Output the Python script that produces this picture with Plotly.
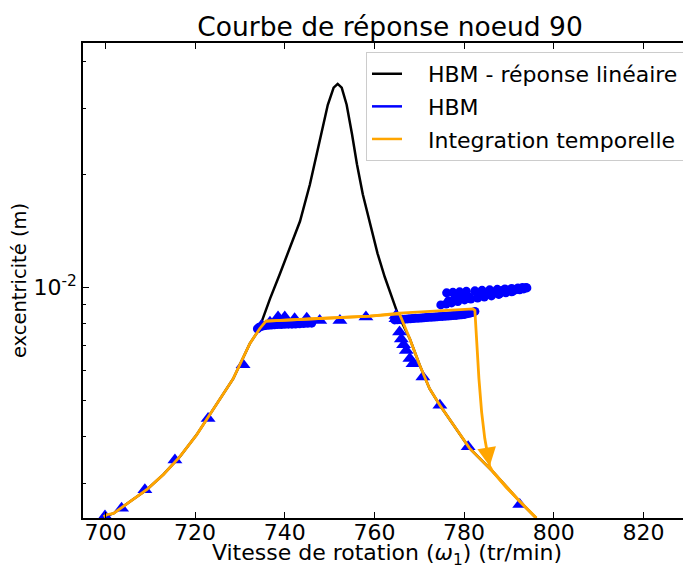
import math
import plotly.graph_objects as go

# ---------------- data (excentricité in units of 1e-3 m) ----------------
# HBM - réponse linéaire (black)
lin_x = [699.5, 701.8, 705.5, 709.2, 712.9, 716.6, 720.3, 724.0, 728.5, 732.2, 734.4,
         734.9, 736.7, 738.9, 741.1, 743.4, 745.6, 747.8, 749.6, 750.9, 751.8, 752.7,
         753.8, 755.0, 756.1, 757.4, 759.0, 760.7, 762.3, 763.9, 765.2, 767.9, 770.1,
         772.3, 774.6, 781.2, 786.4, 792.4, 796.1]
lin_y = [2.44, 2.49, 2.68, 2.88, 3.16, 3.53, 4.03, 4.70, 5.70, 7.07, 7.75,
         8.12, 9.31, 10.85, 12.64, 15.0, 18.8, 24.8, 30.7, 34.1, 34.9, 34.1,
         30.7, 25.6, 21.3, 17.7, 14.74, 12.3, 10.65, 9.42, 8.49, 7.28, 6.19,
         5.36, 4.84, 3.72, 3.22, 2.68, 2.42]

# Integration temporelle (orange) - sweep up
up_x = [699.6, 700.3, 701.8, 705.5, 709.2, 712.9, 716.6, 720.3, 724.0, 728.5, 732.2,
        734.4, 735.8, 741.9, 746.3, 759.0, 765.6, 781.2, 782.0, 782.4, 782.8, 783.3,
        783.9, 784.6, 785.7, 786.4, 789.4, 792.4, 796.1]
up_y = [2.44, 2.47, 2.49, 2.68, 2.88, 3.16, 3.53, 4.03, 4.70, 5.70, 7.07,
        7.75, 8.12, 8.18, 8.24, 8.37, 8.53, 8.76, 8.75, 8.67, 7.07, 5.70,
        4.65, 3.95, 3.33, 3.22, 2.92, 2.68, 2.42]
# Integration temporelle (orange) - sweep down
down_x = [796.1, 792.4, 786.4, 781.2, 774.6, 772.3, 770.1, 767.9, 765.6, 759.0, 746.3,
          741.9, 735.8]
down_y = [2.42, 2.68, 3.22, 3.72, 4.84, 5.36, 6.19, 7.28, 8.49, 8.37, 8.24,
          8.18, 8.12]
# arrow on the jump (tip and tail)
arrow_tip = (785.7, 3.33)
arrow_tail = (785.0, 3.75)

# HBM (blue) - triangles
tri_x = [699.9, 703.6, 708.8, 715.5, 722.9, 730.7, 734.8, 736.7, 738.5, 740.0, 742.2,
         744.9, 747.8, 752.3, 758.1, 764.8, 764.8, 765.6, 766.0, 766.5, 767.1, 767.9,
         768.6, 770.8, 774.6, 780.9, 792.4]
tri_y = [2.45, 2.57, 2.88, 3.46, 4.46, 6.21, 7.90, 8.07, 8.33, 8.33, 8.24,
         8.27, 8.15, 8.15, 8.33, 8.40, 8.24, 7.59, 7.28, 7.02, 6.78, 6.45,
         6.25, 5.76, 4.84, 3.75, 2.63]

# HBM (blue) - circles
circ_x = [733.9, 734.3, 734.8, 735.3, 735.8, 736.4, 737.0, 737.7, 738.4, 739.2, 740.0,
          740.8, 741.6, 742.4, 743.3, 744.2, 745.1, 746.0,
          764.5, 765.1, 765.6, 766.2, 766.8, 767.4, 768.0, 768.6, 769.2, 769.8, 770.4,
          771.0, 771.6, 772.2, 772.8, 773.4, 774.0, 774.6, 775.2, 775.8, 776.4, 777.0,
          777.6, 778.2, 778.8, 779.4, 780.0, 780.6, 781.2, 781.8, 782.4,
          774.8, 776.0, 777.2, 778.6, 780.1, 781.5, 783.0, 784.5, 786.1, 787.7, 789.3,
          790.8, 792.4, 793.3, 794.0,
          793.8, 793.0, 792.0, 790.6, 789.1, 787.4, 785.7, 784.0, 782.4, 780.5, 779.0,
          777.5, 776.1,
          776.5, 778.0, 779.0, 780.0, 781.2, 783.0, 784.6, 786.8, 787.9, 788.5, 790.6,
          791.5]
circ_y = [7.75, 7.82, 7.86, 7.89, 7.91, 7.92, 7.93, 7.94, 7.95, 7.95, 7.96,
          7.97, 7.97, 7.98, 7.99, 8.00, 8.01, 8.02,
          8.18, 8.19, 8.20, 8.21, 8.22, 8.23, 8.24, 8.25, 8.26, 8.27, 8.28,
          8.29, 8.30, 8.31, 8.32, 8.33, 8.34, 8.35, 8.36, 8.37, 8.38, 8.39,
          8.40, 8.41, 8.43, 8.44, 8.46, 8.49, 8.52, 8.56, 8.62,
          8.97, 9.02, 9.08, 9.16, 9.25, 9.30, 9.36, 9.42, 9.48, 9.57, 9.66,
          9.75, 9.84, 9.90, 9.96,
          9.99, 9.98, 9.96, 9.93, 9.90, 9.87, 9.84, 9.81, 9.78, 9.75, 9.72,
          9.69, 9.66,
          9.20, 9.45, 9.31, 9.60, 9.42, 9.65, 9.54, 9.72, 9.60, 9.80, 9.72,
          9.85]

x_ticks = [700, 720, 740, 760, 780, 800, 820]
y_major = [1e-2]
y_minor = [3e-3, 4e-3, 5e-3, 6e-3, 7e-3, 8e-3, 9e-3, 2e-2, 3e-2, 4e-2]

scale = 1e-3
FONT = "DejaVu Sans"
BLUE = "#0000ff"
ORANGE = "#ffa500"
NB = "\u00a0"

# the page adds an 8 px body margin: the figure is sized/placed to compensate
W, H = 683, 561
L, T, B = 75, 35, 49

fig = go.Figure()

fig.add_trace(go.Scatter(x=lin_x, y=[v * scale for v in lin_y], mode="lines",
                         line=dict(color="black", width=2.5), showlegend=False))
fig.add_trace(go.Scatter(x=circ_x, y=[v * scale for v in circ_y], mode="markers",
                         marker=dict(symbol="circle", size=9, color=BLUE,
                                     line=dict(width=0)), showlegend=False))
fig.add_trace(go.Scatter(x=tri_x, y=[v * scale for v in tri_y], mode="markers",
                         marker=dict(symbol="triangle-up", size=13, color=BLUE,
                                     line=dict(width=0)), showlegend=False))
fig.add_trace(go.Scatter(x=down_x, y=[v * scale for v in down_y], mode="lines",
                         line=dict(color=ORANGE, width=2.8), showlegend=False))
fig.add_trace(go.Scatter(x=up_x, y=[v * scale for v in up_y], mode="lines",
                         line=dict(color=ORANGE, width=2.8), showlegend=False))

# legend proxies
for name, col, rank in [(NB * 3 + "HBM - réponse linéaire", "black", 1),
                        (NB * 3 + "HBM", BLUE, 2),
                        (NB * 3 + "Integration temporelle", ORANGE, 3)]:
    fig.add_trace(go.Scatter(x=[None], y=[None], mode="lines", name=name,
                             line=dict(color=col, width=2.5), legendrank=rank,
                             legendgroup=name))

fig.add_annotation(x=arrow_tip[0], y=math.log10(arrow_tip[1] * scale),
                   ax=arrow_tail[0], ay=math.log10(arrow_tail[1] * scale),
                   xref="x", yref="y", axref="x", ayref="y", text="",
                   showarrow=True, arrowhead=2, arrowsize=1.5, arrowwidth=2.5,
                   arrowcolor=ORANGE)

plot_h = H - T - B
plot_w = W - L
fig.update_layout(
    width=W, height=H,
    margin=dict(l=L, r=0, t=T, b=B, pad=0),
    paper_bgcolor="white", plot_bgcolor="white",
    font=dict(family=FONT, size=22, color="black"),
    title=dict(text="Courbe de réponse noeud 90", x=382 / W, xanchor="center",
               xref="container", y=1 - 19 / H, yref="container", yanchor="middle",
               font=dict(size=26.5)),
    legend=dict(x=(358 - L) / plot_w, y=1 - (44 - T) / plot_h,
                xanchor="left", yanchor="top",
                bgcolor="white", bordercolor="#cccccc", borderwidth=1,
                font=dict(size=22), tracegroupgap=1),
    xaxis=dict(range=[695, 830.6], tickvals=x_ticks, ticks="inside", ticklen=6,
               tickcolor="black", showline=True, linecolor="black", linewidth=1.5,
               mirror="ticks", showgrid=False, zeroline=False, ticklabelstandoff=-6,
               title=dict(text="Vitesse de rotation (<i>ω</i><sub>1</sub>) (tr/min)",
                          standoff=8, font=dict(size=22))),
    yaxis=dict(type="log", range=[-2.616, -1.348], tickvals=y_major,
               ticktext=["10<sup>-2</sup>"], ticks="inside", ticklen=6,
               tickcolor="black", showline=True, linecolor="black", linewidth=1.5,
               showgrid=False, zeroline=False,
               minor=dict(tickvals=y_minor, ticks="inside", ticklen=3,
                          tickcolor="black", showgrid=False),
               title=dict(text="excentricité (m)", standoff=6, font=dict(size=19.5))),
)

fig.write_html("out.html")
